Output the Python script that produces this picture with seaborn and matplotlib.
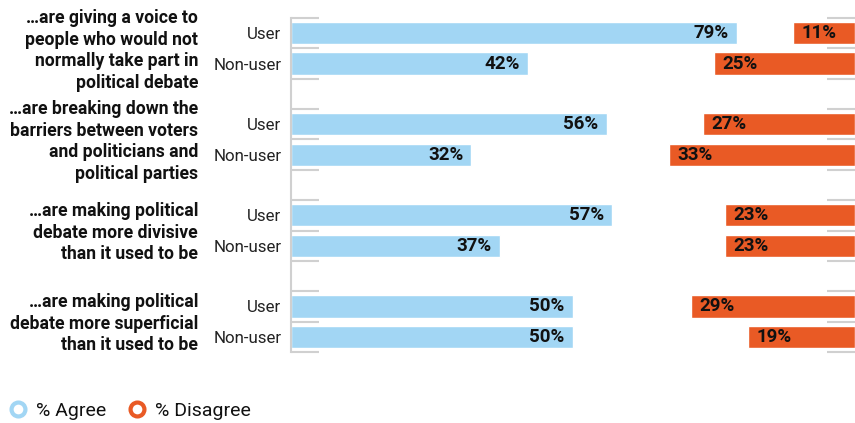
import matplotlib
matplotlib.use("Agg")
import matplotlib.pyplot as plt
from matplotlib.lines import Line2D
import numpy as np
import pandas as pd
import seaborn as sns

# Survey statements and results by group
statements = [
    "\u2026are giving a voice to\npeople who would not\nnormally take part in\npolitical debate",
    "\u2026are breaking down the\nbarriers between voters\nand politicians and\npolitical parties",
    "\u2026are making political\ndebate more divisive\nthan it used to be",
    "\u2026are making political\ndebate more superficial\nthan it used to be",
]
groups = ["User", "Non-user"]
agree_user = [79, 56, 57, 50]
agree_nonuser = [42, 32, 37, 50]
disagree_user = [11, 27, 23, 29]
disagree_nonuser = [25, 33, 23, 19]

BLUE = "#A2D6F4"
ORANGE = "#E95A25"
GRID = "#D0D0D0"

sns.set_theme(style="white")
plt.rcParams["font.family"] = ["Roboto", "DejaVu Sans"]

# Long-form table, one row per statement/group
records = []
for i, s in enumerate(statements):
    for g, a, d in zip(groups,
                       [agree_user[i], agree_nonuser[i]],
                       [disagree_user[i], disagree_nonuser[i]]):
        records.append({"row": f"q{i}-{g}", "statement": i, "group": g,
                        "agree": a, "disagree": d})
df = pd.DataFrame(records)

# Category order with a blank slot between statements
order = []
for i in range(len(statements)):
    order += [f"q{i}-User", f"q{i}-Non-user"]
    if i < len(statements) - 1:
        order.append(f"gap{i}")
n_slots = len(order)

fig = plt.figure(figsize=(8.55, 4.23), dpi=100)
ax = fig.add_axes([291 / 855, 1 - 352 / 423, 1 - 291 / 855, (352 - 18) / 423])

sns.barplot(data=df, x="agree", y="row", order=order, color=BLUE,
            width=0.73, saturation=1, orient="h", ax=ax)
ax.set_xlim(0, 100)

# Disagree bars grow from the right edge on a reversed twin axis
ax2 = ax.twiny()
sns.barplot(data=df, x="disagree", y="row", order=order, color=ORANGE,
            width=0.73, saturation=1, orient="h", ax=ax2)
ax2.set_xlim(100, 0)

for a in (ax, ax2):
    a.set_ylim(n_slots - 0.5, -0.5)
    a.set_xlabel("")
    a.set_ylabel("")
    for sp in a.spines.values():
        sp.set_visible(False)
ax2.set_xticks([])
ax.set_xticks([])

# Row labels (User / Non-user)
ytick_pos = [order.index(r) for r in df["row"]]
ax.set_yticks(ytick_pos)
ax.set_yticklabels(df["group"].tolist(), fontsize=12.2, color="#222222")
ax.tick_params(axis="y", which="major", length=0, pad=7)

# Short boundary ticks on both sides
bounds = np.arange(-0.5, n_slots, 1.0)
ax.set_yticks(bounds, minor=True)
ax.tick_params(axis="y", which="minor", direction="in", length=20,
               width=1.5, color=GRID, left=True, right=True)
ax.spines["left"].set_visible(True)
ax.spines["left"].set_color(GRID)
ax.spines["left"].set_linewidth(1.5)

# Value labels inside the bars
for _, r in df.iterrows():
    y = order.index(r["row"])
    ax.annotate(f"{r['agree']}%", xy=(r["agree"], y), xytext=(-6, 0),
                textcoords="offset points", ha="right", va="center",
                fontsize=13.5, fontweight="bold", color="#111111")
    ax2.annotate(f"{r['disagree']}%", xy=(r["disagree"], y), xytext=(6, 0),
                 textcoords="offset points", ha="left", va="center",
                 fontsize=13.5, fontweight="bold", color="#111111")

# Statement text, centred on each pair of bars
for i, s in enumerate(statements):
    yc = (order.index(f"q{i}-User") + order.index(f"q{i}-Non-user")) / 2
    ax.annotate(s, xy=(0, yc), xytext=(-93, -2), textcoords="offset pixels",
                ha="right", va="center", multialignment="right",
                fontsize=12.7, fontweight="bold", color="#111111",
                linespacing=1.25, annotation_clip=False)

handles = [
    Line2D([], [], linestyle="none", marker="o", markersize=10,
           markerfacecolor="white", markeredgecolor=BLUE, markeredgewidth=3),
    Line2D([], [], linestyle="none", marker="o", markersize=10,
           markerfacecolor="white", markeredgecolor=ORANGE, markeredgewidth=3),
]
fig.legend(handles, ["% Agree", "% Disagree"], loc="lower left",
           bbox_to_anchor=(-0.008, -0.024), ncol=2, frameon=False, fontsize=14,
           handletextpad=0.3, columnspacing=1.0, handlelength=1.2,
           borderaxespad=0.3, labelcolor="#111111")

fig.savefig("out.png", dpi=100)
